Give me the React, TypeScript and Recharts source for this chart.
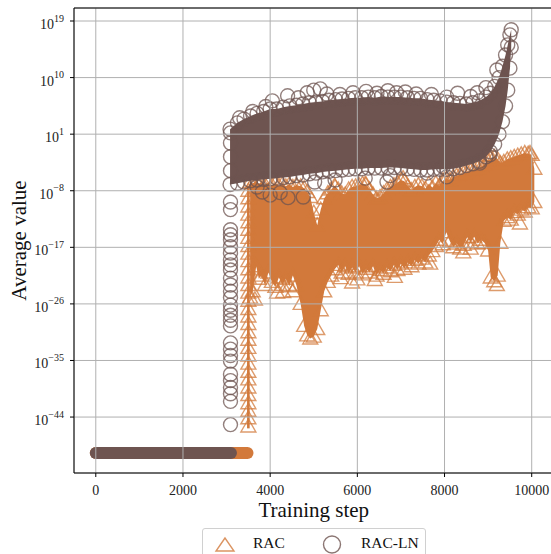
import {
  ComposedChart,
  Area,
  Line,
  Scatter,
  XAxis,
  YAxis,
  CartesianGrid,
  ReferenceLine,
} from "recharts";

const RAC_COLOR = "#d2793b";
const LN_COLOR = "#6e5450";
const FONT = "Liberation Serif";

const xTicks = [0, 2000, 4000, 6000, 8000, 10000];
const yTickExps = [-44, -35, -26, -17, -8, 1, 10, 19];
const yDomainExps = [-52.9, 21.07];

// both runs sit on the floor value before they take off
const flatExp = -49.7;
const racFlatSteps = [0, 3480];
const lnFlatSteps = [0, 3100];

// RAC: envelope of the triangle cloud (log10 of value)
const racStep = [
  3540, 3600, 3680, 3740, 3800, 3880, 3960, 4040, 4120, 4200,
  4280, 4360, 4440, 4520, 4600, 4700, 4780, 4850, 4920, 5000,
  5080, 5160, 5240, 5320, 5400, 5480, 5560, 5640, 5720, 5800,
  5880, 5960, 6040, 6120, 6200, 6280, 6360, 6440, 6520, 6600,
  6680, 6760, 6840, 6920, 7000, 7080, 7160, 7240, 7320, 7400,
  7480, 7560, 7640, 7720, 7800, 7880, 7960, 8040, 8120, 8200,
  8280, 8360, 8440, 8520, 8600, 8680, 8760, 8840, 8920, 9000,
  9060, 9140, 9220, 9280, 9360, 9440, 9520, 9600, 9680, 9760,
  9840, 9920, 10000, 10060,
];
const racHigh = [
  -6.6, -6.8, -6.5, -6.9, -6.6, -7.0, -6.7, -7.1, -6.8, -7.2,
  -6.9, -7.3, -7.0, -7.4, -7.1, -7.3, -7.6, -8.2, -9.0, -11.5,
  -13.5, -11.0, -9.2, -8.4, -7.8, -7.2, -7.8, -8.4, -8.6, -7.8,
  -7.4, -7.3, -7.1, -6.9, -7.0, -7.8, -8.6, -9.2, -9.0, -8.4,
  -7.8, -7.4, -7.1, -6.7, -6.3, -6.5, -7.3, -7.9, -7.4, -7.1,
  -7.3, -7.7, -6.9, -7.5, -6.8, -7.2, -6.4, -6.1, -6.3, -5.8,
  -5.6, -5.4, -5.2, -5.0, -4.8, -4.6, -4.4, -4.2, -3.8, -3.2,
  -2.9, -2.6, -3.0, -3.6, -3.4, -3.0, -2.8, -2.6, -2.4, -2.2,
  -2.0, -2.1, -2.3, -4.5,
];
const racLow = [
  -25, -24, -20, -22, -21.5, -23, -21, -22.5, -23.3, -21.8,
  -23, -22, -23.2, -21.5, -23, -26, -29.5, -31, -31.5, -31.2,
  -30, -27, -24, -22.5, -21.5, -20.5, -19.8, -21, -20, -21.2,
  -20.2, -21, -20, -21.3, -20.4, -21, -20, -21.5, -20.6, -21.2,
  -20.2, -20.8, -19.8, -20.6, -19.6, -20.4, -19.4, -20, -19, -19.6,
  -18.8, -19.4, -18.3, -17.6, -16.8, -15.8, -16.5, -14.6, -16, -17,
  -16.4, -17.2, -16.6, -15.4, -16.2, -15.3, -16.4, -15.8, -16.3, -17.5,
  -21.8, -22.4, -21.5, -16.3, -12.8, -12.2, -12.6, -11.4, -11.8, -11.0,
  -11.3, -10.6, -10.8, -9.8,
];
// the column where RAC leaves the floor
const racColStep = [3470, 3530];
const racColLow = [-45.8, -45.8];
const racColHigh = [-7.2, -7.2];
const racColMarkStep = 3500;
const racColMarkExp = [
  -45.5, -44.2, -43, -41.8, -40.5, -39.3, -38, -36.8, -35.5, -34.2,
  -33, -31.7, -30.5, -29.2, -28, -26.8, -25.5, -24.2, -23, -21.8,
  -20.5, -19.2, -18, -16.8, -15.5, -14.2, -13, -11.8, -10.5, -9.2, -8,
];
const racOutStep = [
  3650, 4160, 4300, 4520, 5490, 5620, 5880, 6000, 6180, 6400,
  6860, 7050, 7670, 8000, 8430, 8600, 9050, 9200, 9730, 9960,
];
const racOutExp = [
  -25.3, -24.2, -24.1, -24.0, -7.4, -21.9, -22.6, -22.1, -6.9, -22.2,
  -21.7, -6.0, -19.6, -6.2, -17.8, -17.2, -2.4, -23.0, -13.2, -2.0,
];

// RAC-LN: envelope of the circle cloud (log10 of value)
const lnStep = [
  3080, 3250, 3400, 3550, 3700, 3850, 4000, 4150, 4300, 4450,
  4600, 4750, 4900, 5050, 5200, 5350, 5500, 5650, 5800, 5950,
  6100, 6250, 6400, 6550, 6700, 6850, 7000, 7150, 7300, 7450,
  7600, 7750, 7900, 8050, 8200, 8350, 8500, 8650, 8800, 8950,
  9050, 9150, 9250, 9330, 9400, 9450, 9500, 9530,
];
const lnHigh = [
  1.8, 2.8, 3.4, 3.9, 4.3, 4.6, 5.0, 5.0, 5.3, 5.5,
  5.6, 5.8, 6.0, 6.1, 6.2, 6.4, 6.5, 6.6, 6.7, 6.8,
  6.8, 6.9, 6.8, 7.0, 6.9, 6.9, 6.9, 6.8, 6.7, 6.7,
  6.5, 6.4, 6.3, 6.1, 6.0, 5.9, 5.8, 6.0, 6.3, 6.9,
  7.5, 8.6, 10.0, 11.8, 13.6, 15.2, 16.8, 17.6,
];
const lnLow = [
  -7.0, -6.8, -6.6, -6.4, -6.3, -6.2, -6.1, -6.0, -5.9, -5.8,
  -5.6, -5.5, -5.3, -5.2, -5.0, -4.9, -4.8, -4.7, -4.6, -4.5,
  -4.5, -4.4, -4.4, -4.4, -4.3, -4.3, -4.4, -4.5, -4.6, -4.7,
  -4.7, -4.6, -4.6, -4.6, -4.5, -4.3, -4.0, -3.7, -3.3, -2.6,
  -1.8, -0.6, 1.0, 3.0, 5.5, 8.0, 11.5, 14.8,
];
const lnColMarkStep = 3090;
const lnColMarkExp = [
  -4.8, -2.6, -0.4, 1.2,
  -9.8, -11, -14.2, -15, -15.8, -16.9, -17.9, -19, -19.8, -20.6,
  -21.9, -23, -24, -25, -26.2, -27, -27.8, -28.6, -29.5, -32.2,
  -33.2, -34.2, -35.1, -37.2, -38.2, -39.3, -40.3, -41.5, -45.2,
];
const lnOutStep = [
  3300, 3600, 3900, 4050, 4400, 4650, 4850, 5000, 5150, 5300,
  5600, 5900, 6200, 6450, 6700, 6900, 7100, 7350, 7700, 8050,
  8300, 8600, 8750, 8950, 9200,
  3700, 3820, 4000, 4230, 4410, 4760, 5020, 5250, 5490, 6180,
  6680, 6750, 7600, 7970, 8050, 8810, 9040,
];
const lnOutExp = [
  3.6, 4.6, 5.4, 6.3, 7.1, 6.8, 7.6, 8.0, 8.2, 7.4,
  7.3, 7.6, 7.8, 7.5, 7.9, 7.6, 7.7, 7.4, 7.3, 6.9,
  7.5, 7.0, 7.6, 8.4, 11.2,
  -7.4, -8.2, -8.7, -8.3, -9.1, -9.0, -6.6, -6.8, -6.3, -6.0,
  -6.6, -5.6, -5.2, -4.2, -5.8, -3.6, -2.3,
];

const p10 = (e: number) => Math.pow(10, e);

const band = (steps: number[], lo: number[], hi: number[]) =>
  steps.map((s, i) => ({ step: s, range: [p10(lo[i]), p10(hi[i])] }));
const points = (steps: number[], exps: number[]) =>
  steps.map((s, i) => ({ step: s, v: p10(exps[i]) }));

const racBand = band(racStep, racLow, racHigh);
const racColBand = band(racColStep, racColLow, racColHigh);
const racFlat = racFlatSteps.map((s) => ({ step: s, v: p10(flatExp) }));
const racMarks = [
  ...points(racStep, racHigh),
  ...points(racStep, racLow),
  ...racColMarkExp.map((e) => ({ step: racColMarkStep, v: p10(e) })),
  ...points(racOutStep, racOutExp),
];

const lnBand = band(lnStep, lnLow, lnHigh);
const lnFlat = lnFlatSteps.map((s) => ({ step: s, v: p10(flatExp) }));
const lnMarks = [
  ...points(lnStep, lnHigh),
  ...points(lnStep, lnLow),
  ...lnColMarkExp.map((e) => ({ step: lnColMarkStep, v: p10(e) })),
  ...points(lnOutStep, lnOutExp),
];

const Triangle = (p: any) => (
  <path
    d={`M${p.cx},${p.cy - 7.5}L${p.cx - 7.5},${p.cy + 5.5}L${p.cx + 7.5},${p.cy + 5.5}Z`}
    fill="none"
    stroke={RAC_COLOR}
    strokeOpacity={0.75}
    strokeWidth={1.4}
  />
);

const Ring = (p: any) => (
  <circle
    cx={p.cx}
    cy={p.cy}
    r={7}
    fill="none"
    stroke={LN_COLOR}
    strokeOpacity={0.75}
    strokeWidth={1.4}
  />
);

const YTick = ({ x, y, payload }: any) => {
  const e = Math.round(Math.log10(payload.value));
  const exp = e < 0 ? "\u2212" + Math.abs(e) : String(e);
  return (
    <text x={x} y={y} textAnchor="end" fill="#222" fontFamily={FONT}>
      <tspan dy={8} fontSize={14}>10</tspan>
      <tspan dy={-7.5} fontSize={10}>{exp}</tspan>
    </text>
  );
};

const XTick = ({ x, y, payload }: any) => (
  <text
    x={x}
    y={y}
    dy={10}
    textAnchor="middle"
    fill="#222"
    fontSize={14}
    fontFamily={FONT}
  >
    {payload.value}
  </text>
);

export default function App() {
  return (
    <div
      style={{
        position: "fixed",
        left: 0,
        top: 0,
        width: 551,
        height: 554,
        overflow: "hidden",
        background: "#fff",
        fontFamily: FONT,
      }}
    >
      <ComposedChart
        width={560}
        height={554}
        margin={{ top: 8, right: 6.5, left: 0, bottom: 0 }}
      >
        <XAxis
          dataKey="step"
          type="number"
          domain={[-500, 10500]}
          ticks={xTicks}
          allowDataOverflow
          tickSize={4}
          tickMargin={8}
          height={81}
          stroke="#000"
          tick={<XTick />}
          label={{
            value: "Training step",
            position: "insideBottom",
            offset: 37,
            style: { fontSize: 21, fontFamily: FONT, fill: "#111" },
          }}
        />
        <YAxis
          type="number"
          scale="log"
          domain={[p10(yDomainExps[0]), p10(yDomainExps[1])]}
          ticks={yTickExps.map(p10)}
          allowDataOverflow
          width={74}
          tickSize={4}
          tickMargin={6}
          stroke="#000"
          tick={<YTick />}
          label={{
            value: "Average value",
            angle: -90,
            position: "insideLeft",
            offset: 19,
            style: {
              fontSize: 21,
              fontFamily: FONT,
              fill: "#111",
              textAnchor: "middle",
            },
          }}
        />

        <Line
          data={racFlat}
          dataKey="v"
          stroke={RAC_COLOR}
          strokeWidth={12}
          strokeLinecap="round"
          dot={false}
          activeDot={false}
          isAnimationActive={false}
          zIndex={100}
        />
        <Area
          data={racColBand}
          dataKey="range"
          type="linear"
          stroke="none"
          fill={RAC_COLOR}
          fillOpacity={1}
          activeDot={false}
          isAnimationActive={false}
          zIndex={101}
        />
        <Area
          data={racBand}
          dataKey="range"
          type="linear"
          stroke="none"
          fill={RAC_COLOR}
          fillOpacity={1}
          activeDot={false}
          isAnimationActive={false}
          zIndex={102}
        />
        <Scatter
          data={racMarks}
          dataKey="v"
          shape={<Triangle />}
          isAnimationActive={false}
          zIndex={103}
        />

        <Line
          data={lnFlat}
          dataKey="v"
          stroke={LN_COLOR}
          strokeWidth={12}
          strokeLinecap="round"
          dot={false}
          activeDot={false}
          isAnimationActive={false}
          zIndex={200}
        />
        <Area
          data={lnBand}
          dataKey="range"
          type="linear"
          stroke="none"
          fill={LN_COLOR}
          fillOpacity={1}
          activeDot={false}
          isAnimationActive={false}
          zIndex={201}
        />
        <Scatter
          data={lnMarks}
          dataKey="v"
          shape={<Ring />}
          isAnimationActive={false}
          zIndex={202}
        />

        <CartesianGrid stroke="#b0b0b0" strokeWidth={1} zIndex={450} />
        <ReferenceLine
          y={p10(yDomainExps[1])}
          stroke="#000"
          strokeWidth={1}
          zIndex={460}
        />
      </ComposedChart>

      <div
        style={{
          position: "absolute",
          left: 202,
          top: 528,
          width: 222,
          height: 40,
          border: "1px solid #d0d0d0",
          borderRadius: 3,
          background: "#fff",
        }}
      >
        <svg width={222} height={26} style={{ display: "block" }}>
          <path
            d="M22,9L13,22L31,22Z"
            fill="none"
            stroke={RAC_COLOR}
            strokeOpacity={0.8}
            strokeWidth={1.4}
          />
          <text x={50} y={19} fontSize={15.5} fill="#111" fontFamily={FONT}>
            RAC
          </text>
          <circle
            cx={129}
            cy={15.5}
            r={8.5}
            fill="none"
            stroke={LN_COLOR}
            strokeOpacity={0.8}
            strokeWidth={1.4}
          />
          <text x={158} y={19} fontSize={15.5} fill="#111" fontFamily={FONT}>
            RAC-LN
          </text>
        </svg>
      </div>
    </div>
  );
}
